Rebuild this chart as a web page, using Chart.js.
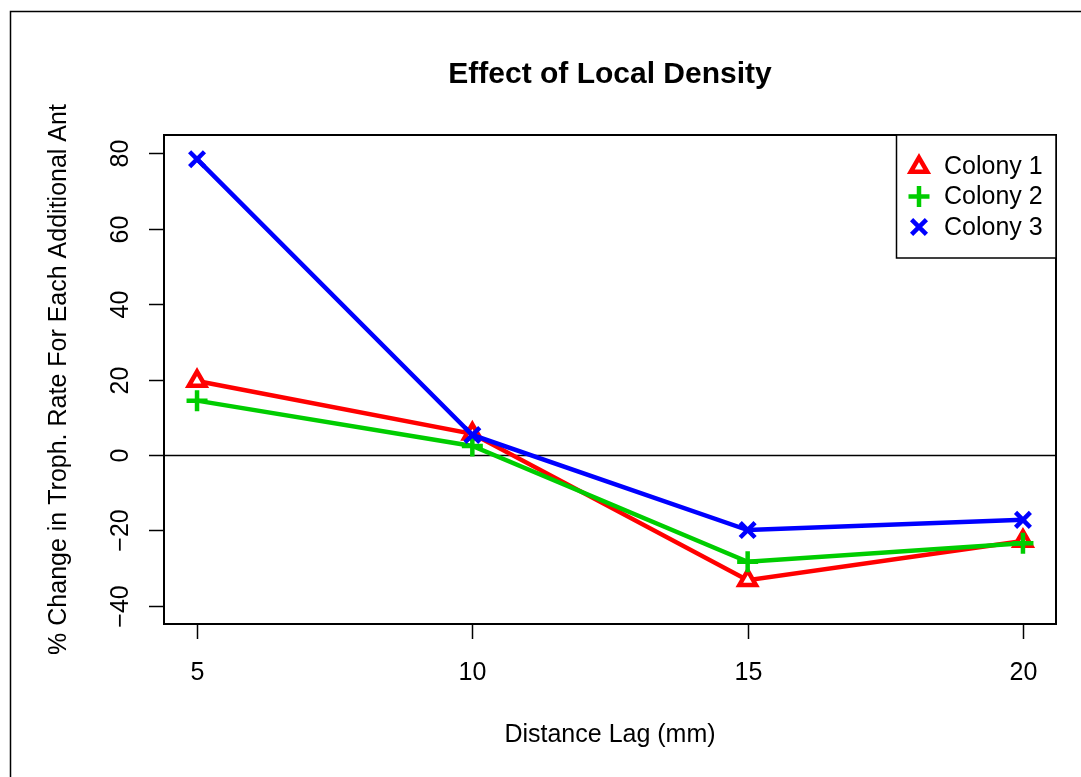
<!DOCTYPE html>
<html lang="en">
<head>
  <meta charset="UTF-8">
  <title>Effect of Local Density</title>
  <script src="https://cdn.jsdelivr.net/npm/chart.js"></script>
  <style>
    body {
      margin: 0;
      background: #ffffff;
    }
    #wrap {
      width: 1081px;
      height: 777px;
    }
  </style>
</head>
<body>
  <div id="wrap">
    <canvas id="chart" width="1081" height="777"></canvas>
  </div>

  <script>
    // data
    const distances = [5, 10, 15, 20];
    const colony1 = [19.6, 5.6, -33.2, -22.8];
    const colony2 = [14.4, 2.4, -28.3, -23.4];
    const colony3 = [78.4, 5.3, -19.9, -17.2];
    const xTicks = [5, 10, 15, 20];
    const yTicks = [-40, -20, 0, 20, 40, 60, 80];
    const seriesNames = ['Colony 1', 'Colony 2', 'Colony 3'];

    const FONT = '"Liberation Sans", Arial, Helvetica, sans-serif';

    function toPoints(vals) {
      return vals.map((v, i) => ({ x: distances[i], y: v }));
    }

    // R style box, axes, labels and legend
    const rAxes = {
      id: 'rAxes',
      beforeDatasetsDraw(chart) {
        const ctx = chart.ctx;
        const y = chart.scales.y;
        const a = chart.chartArea;
        ctx.save();
        ctx.strokeStyle = '#000';
        ctx.lineWidth = 1.5;
        ctx.beginPath();
        const y0 = Math.round(y.getPixelForValue(0)) + 0.5;
        ctx.moveTo(a.left, y0);
        ctx.lineTo(a.right, y0);
        ctx.stroke();
        ctx.restore();
      },
      afterDraw(chart) {
        const ctx = chart.ctx;
        const x = chart.scales.x;
        const y = chart.scales.y;
        const a = chart.chartArea;
        ctx.save();
        ctx.strokeStyle = '#000';
        ctx.fillStyle = '#000';
        ctx.lineWidth = 1.5;

        // outer figure frame
        ctx.strokeRect(10.5, 11.5, 1200, 900);

        // plot box
        ctx.lineWidth = 2;
        ctx.strokeRect(a.left, a.top, a.right - a.left, a.bottom - a.top);

        // y ticks + rotated labels
        ctx.lineWidth = 1.5;
        ctx.font = '25px ' + FONT;
        yTicks.forEach(v => {
          const py = Math.round(y.getPixelForValue(v)) + 0.5;
          ctx.beginPath();
          ctx.moveTo(a.left - 15, py);
          ctx.lineTo(a.left, py);
          ctx.stroke();
          ctx.save();
          ctx.translate(128, py);
          ctx.rotate(-Math.PI / 2);
          ctx.textAlign = 'center';
          ctx.textBaseline = 'alphabetic';
          ctx.fillText(String(v).replace('-', '\u2212'), 0, 0);
          ctx.restore();
        });

        // x ticks + labels
        xTicks.forEach(v => {
          const px = Math.round(x.getPixelForValue(v)) + 0.5;
          ctx.beginPath();
          ctx.moveTo(px, a.bottom);
          ctx.lineTo(px, a.bottom + 15);
          ctx.stroke();
          ctx.textAlign = 'center';
          ctx.textBaseline = 'alphabetic';
          ctx.fillText(String(v), px, 680);
        });

        // axis titles
        const cx = (a.left + a.right) / 2;
        const cy = (a.top + a.bottom) / 2;
        ctx.textAlign = 'center';
        ctx.fillText('Distance Lag (mm)', cx, 742);
        ctx.save();
        ctx.translate(66, cy);
        ctx.rotate(-Math.PI / 2);
        ctx.fillText('% Change in Troph. Rate For Each Additional Ant', 0, 0);
        ctx.restore();

        // main title
        ctx.font = 'bold 30px ' + FONT;
        ctx.fillText('Effect of Local Density', cx, 83);

        // legend
        const lx = 896, ly = a.top, lw = a.right - lx, lh = 123;
        ctx.fillStyle = '#fff';
        ctx.fillRect(lx, ly, lw, lh);
        ctx.lineWidth = 1.5;
        ctx.strokeRect(lx + 0.5, ly, lw - 0.5, lh);
        ctx.font = '25px ' + FONT;
        chart.data.datasets.forEach((ds, i) => {
          const ry = 166 + i * 30.5;
          ctx.strokeStyle = ds.borderColor;
          ctx.fillStyle = '#fff';
          ctx.lineWidth = 4.5;
          Chart.helpers.drawPoint(ctx, {
            pointStyle: ds.pointStyle,
            radius: ds.pointRadius,
            borderWidth: 4.5
          }, 919, ry + (ds.pointStyle === 'triangle' ? 1 : 0));
          ctx.fillStyle = '#000';
          ctx.textAlign = 'left';
          ctx.textBaseline = 'middle';
          ctx.fillText(seriesNames[i], 944, ry + 1);
        });
        ctx.restore();
      }
    };

    const chart = new Chart(document.getElementById('chart').getContext('2d'), {
      type: 'line',
      data: {
        datasets: [
          {
            label: seriesNames[0],
            data: toPoints(colony1),
            borderColor: '#ff0000',
            backgroundColor: '#ffffff',
            pointStyle: 'triangle',
            pointRadius: 9.5,
            pointBorderWidth: 4.5,
            borderWidth: 4.5,
            order: 3
          },
          {
            label: seriesNames[1],
            data: toPoints(colony2),
            borderColor: '#00cd00',
            backgroundColor: '#ffffff',
            pointStyle: 'cross',
            pointRadius: 10.5,
            pointBorderWidth: 4.5,
            borderWidth: 4.5,
            order: 2
          },
          {
            label: seriesNames[2],
            data: toPoints(colony3),
            borderColor: '#0000ff',
            backgroundColor: '#ffffff',
            pointStyle: 'crossRot',
            pointRadius: 10.5,
            pointBorderWidth: 4.5,
            borderWidth: 4.5,
            order: 1
          }
        ]
      },
      options: {
        responsive: false,
        animation: false,
        events: [],
        layout: {
          padding: { left: 164, top: 135, right: 25, bottom: 153 }
        },
        scales: {
          x: { type: 'linear', min: 4.4, max: 20.6, display: false },
          y: { type: 'linear', min: -44.8, max: 84.8, display: false }
        },
        plugins: {
          legend: { display: false },
          title: { display: false },
          tooltip: { enabled: false }
        }
      },
      plugins: [rAxes]
    });
  </script>
</body>
</html>
